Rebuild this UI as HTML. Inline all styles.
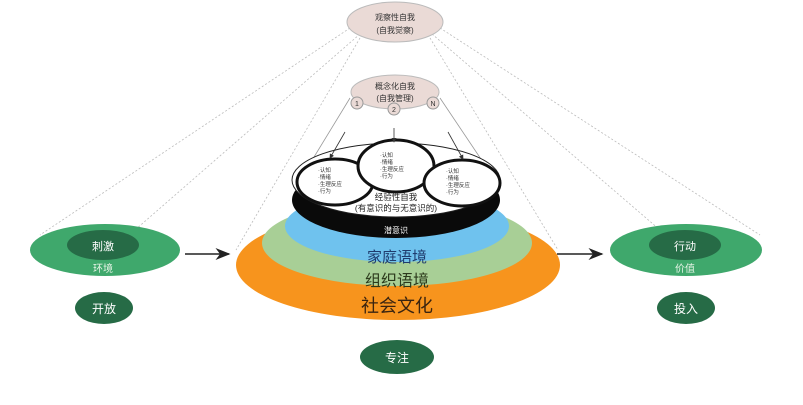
<!DOCTYPE html>
<html><head><meta charset="utf-8"><style>
body{margin:0;background:#fff;}
svg text{font-family:"Liberation Sans","Noto Sans CJK SC",sans-serif;}
</style></head><body>
<svg width="803" height="400" viewBox="0 0 803 400" xmlns="http://www.w3.org/2000/svg">
<defs><marker id="ah" markerWidth="10" markerHeight="8" refX="9" refY="4" orient="auto"><path d="M0,0 L10,4 L0,8 L3,4z" fill="#222"/></marker>
<marker id="sa" markerWidth="6" markerHeight="6" refX="5" refY="3" orient="auto"><path d="M0,0 L6,3 L0,6z" fill="#333"/></marker></defs>
<g stroke="#bbb" stroke-width="0.8" stroke-dasharray="2,2" fill="none">
<line x1="350" y1="28" x2="40" y2="235"/><line x1="360" y1="34" x2="135" y2="230"/>
<line x1="440" y1="28" x2="760" y2="235"/><line x1="432" y1="34" x2="660" y2="230"/>
<line x1="360" y1="38" x2="236" y2="250"/><line x1="430" y1="38" x2="558" y2="250"/>
</g>
<g stroke="#999" stroke-width="0.8" fill="none">
<line x1="350" y1="98" x2="300" y2="180"/><line x1="440" y1="98" x2="495" y2="180"/>
</g>
<ellipse cx="395" cy="22" rx="48" ry="20" fill="#eadad6" stroke="#bbb"/>
<text x="395" y="20" font-size="8" text-anchor="middle" fill="#333">观察性自我</text>
<text x="395" y="33" font-size="8" text-anchor="middle" fill="#333">(自我觉察)</text>
<ellipse cx="395" cy="92" rx="44" ry="17" fill="#eadad6" stroke="#bbb"/>
<text x="395" y="89" font-size="8" text-anchor="middle" fill="#333">概念化自我</text>
<text x="395" y="101" font-size="8" text-anchor="middle" fill="#333">(自我管理)</text>
<g fill="#eadad6" stroke="#999"><circle cx="357" cy="103" r="6"/><circle cx="394" cy="109" r="6"/><circle cx="433" cy="103" r="6"/></g>
<g font-size="7" text-anchor="middle" fill="#333"><text x="357" y="106">1</text><text x="394" y="112">2</text><text x="433" y="106">N</text></g>
<ellipse cx="398" cy="265" rx="162" ry="55" fill="#f7941d"/>
<ellipse cx="397" cy="243" rx="135" ry="43" fill="#a8cf96"/>
<ellipse cx="397" cy="226" rx="112" ry="36" fill="#6fc2ee"/>
<ellipse cx="396" cy="200" rx="104" ry="38" fill="#0a0a0a"/>
<ellipse cx="396" cy="180" rx="104" ry="37" fill="#fff" stroke="#222"/>
<ellipse cx="335" cy="182" rx="38" ry="23" fill="#fff" stroke="#111" stroke-width="3"/>
<ellipse cx="396" cy="166" rx="38" ry="26" fill="#fff" stroke="#111" stroke-width="3"/>
<ellipse cx="462" cy="183" rx="38" ry="23" fill="#fff" stroke="#111" stroke-width="3"/>
<g stroke="#333" stroke-width="0.8"><line x1="345" y1="132" x2="330" y2="158" marker-end="url(#sa)"/><line x1="394" y1="128" x2="394" y2="142" marker-end="url(#sa)"/><line x1="448" y1="132" x2="463" y2="159" marker-end="url(#sa)"/></g>
<g font-size="5.5" fill="#333">
<text x="318" y="172">·认知</text><text x="318" y="179">·情绪</text><text x="318" y="186">·生理反应</text><text x="318" y="193">·行为</text>
<text x="380" y="157">·认知</text><text x="380" y="164">·情绪</text><text x="380" y="171">·生理反应</text><text x="380" y="178">·行为</text>
<text x="446" y="173">·认知</text><text x="446" y="180">·情绪</text><text x="446" y="187">·生理反应</text><text x="446" y="194">·行为</text>
</g>
<text x="396" y="200" font-size="8.5" text-anchor="middle" fill="#222">经验性自我</text>
<text x="396" y="211" font-size="8.5" text-anchor="middle" fill="#222">(有意识的与无意识的)</text>
<text x="396" y="233" font-size="8" text-anchor="middle" fill="#fff">潜意识</text>
<text x="397" y="262" font-size="15" text-anchor="middle" fill="#1f3c6e">家庭语境</text>
<text x="397" y="286" font-size="16" text-anchor="middle" fill="#2c3a1c">组织语境</text>
<text x="397" y="312" font-size="18" text-anchor="middle" fill="#3a2410">社会文化</text>
<line x1="185" y1="254" x2="229" y2="254" stroke="#222" stroke-width="1.5" marker-end="url(#ah)"/>
<line x1="557" y1="254" x2="602" y2="254" stroke="#222" stroke-width="1.5" marker-end="url(#ah)"/>
<ellipse cx="105" cy="250" rx="75" ry="26" fill="#3fa86c"/>
<ellipse cx="103" cy="245" rx="36" ry="15" fill="#266b46"/>
<text x="103" y="250" font-size="11" text-anchor="middle" fill="#fff">刺激</text>
<text x="103" y="272" font-size="10" text-anchor="middle" fill="#e8f5e8">环境</text>
<ellipse cx="686" cy="250" rx="76" ry="26" fill="#3fa86c"/>
<ellipse cx="685" cy="245" rx="36" ry="15" fill="#266b46"/>
<text x="685" y="250" font-size="11" text-anchor="middle" fill="#fff">行动</text>
<text x="685" y="272" font-size="10" text-anchor="middle" fill="#e8f5e8">价值</text>
<ellipse cx="104" cy="308" rx="29" ry="16" fill="#266b46"/>
<text x="104" y="313" font-size="12" text-anchor="middle" fill="#fff">开放</text>
<ellipse cx="686" cy="308" rx="29" ry="16" fill="#266b46"/>
<text x="686" y="313" font-size="12" text-anchor="middle" fill="#fff">投入</text>
<ellipse cx="397" cy="357" rx="37" ry="17" fill="#266b46"/>
<text x="397" y="362" font-size="12" text-anchor="middle" fill="#fff">专注</text>
</svg>
</body></html>
